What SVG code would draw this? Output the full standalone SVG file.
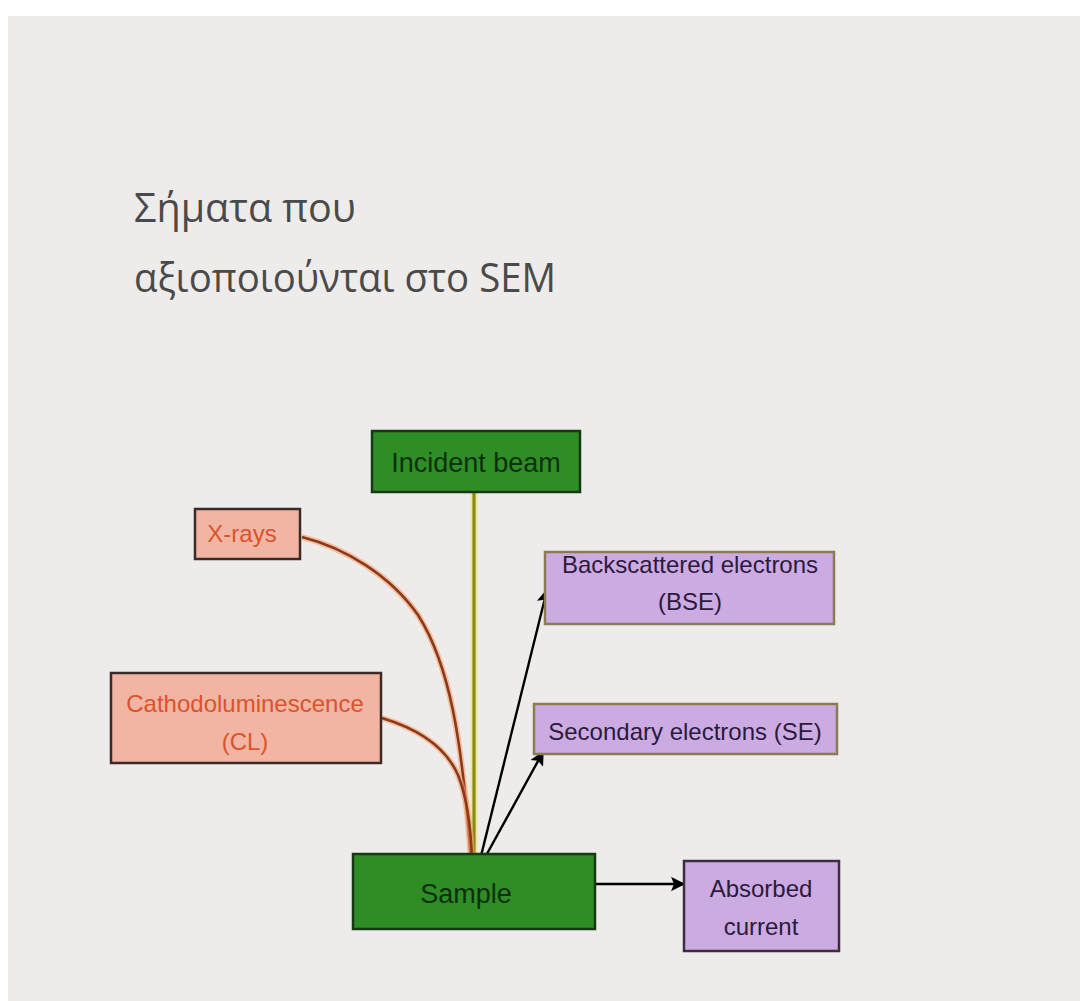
<svg xmlns="http://www.w3.org/2000/svg" width="1080" height="1001" viewBox="0 0 1080 1001">
  <defs>
    <marker id="arrow" viewBox="0 0 10 10" refX="9" refY="5" markerWidth="7" markerHeight="6" orient="auto" markerUnits="strokeWidth">
      <path d="M0,0 L10,5 L0,10 L2,5 z" fill="#000"/>
    </marker>
    <style>
      .title { font-family: "Open Sans", "DejaVu Sans", sans-serif; font-weight: 400; font-size: 41px; fill: #4a4a4a; }
      .lbl { font-family: "Liberation Sans", Arial, sans-serif; font-size: 24px; text-anchor: middle; }
      .green rect { fill: #2f8d25; stroke: #173a15; stroke-width: 2.5; }
      .green text { fill: #0c300c; font-size: 27px; }
      .salmon rect { fill: #f2b4a3; stroke: #3b2b28; stroke-width: 2.5; }
      .salmon text { fill: #d8542e; }
      .purple rect { fill: #cbabe2; stroke: #8a7b52; stroke-width: 2.5; }
      .purple text { fill: #2c1a3c; }
      .purple2 rect { fill: #cbabe2; stroke: #3c2c44; stroke-width: 2.5; }
      .purple2 text { fill: #2c1a3c; }
      .glow { fill: none; stroke: #f6a070; stroke-width: 6; opacity: 0.6; }
      .curve { fill: none; stroke: #8a3a18; stroke-width: 2.6; }
      .arr { fill: none; stroke: #000; stroke-width: 2.4; marker-end: url(#arrow); }
    </style>
  </defs>
  <rect x="0" y="0" width="1080" height="1001" fill="#ffffff"/>
  <rect x="8" y="16" width="1072" height="985" fill="#edecea"/>

  <g id="title">
    <text class="title" x="134" y="222" textLength="222" lengthAdjust="spacingAndGlyphs">Σήματα που</text>
    <text class="title" x="134" y="292" textLength="422" lengthAdjust="spacingAndGlyphs">αξιοποιούνται στο SEM</text>
  </g>

  <g id="connectors">
    <line x1="474" y1="492" x2="474" y2="866" stroke="#f3e27a" stroke-width="7" opacity="0.6"/>
    <line x1="474" y1="492" x2="474" y2="866" stroke="#8a8a12" stroke-width="3.2"/>
    <path class="glow" d="M302,537 C345,548 390,575 418,615 C450,665 462,740 471,860"/>
    <path class="curve" d="M302,537 C345,548 390,575 418,615 C450,665 462,740 471,860"/>
    <path class="glow" d="M382,718 C415,728 445,745 458,775 C468,800 471,830 472,860"/>
    <path class="curve" d="M382,718 C415,728 445,745 458,775 C468,800 471,830 472,860"/>
    <circle cx="473" cy="857" r="4.5" fill="#9a8a10" opacity="0.85"/>
    <line class="arr" x1="477" y1="872" x2="547" y2="590"/>
    <line class="arr" x1="477" y1="872" x2="543" y2="752"/>
    <line class="arr" x1="595" y1="884" x2="684" y2="884"/>
  </g>

  <g id="incident-beam" class="green">
    <rect x="372" y="431" width="208" height="61"/>
    <text class="lbl" x="476" y="472">Incident beam</text>
  </g>

  <g id="x-rays" class="salmon">
    <rect x="195" y="509" width="105" height="50"/>
    <text class="lbl" x="242" y="542">X-rays</text>
  </g>

  <g id="cathodoluminescence" class="salmon">
    <rect x="111" y="673" width="270" height="90"/>
    <text class="lbl" x="245" y="712">Cathodoluminescence</text>
    <text class="lbl" x="245" y="750">(CL)</text>
  </g>

  <g id="bse" class="purple">
    <rect x="545" y="552" width="289" height="72"/>
    <text class="lbl" x="690" y="573">Backscattered electrons</text>
    <text class="lbl" x="690" y="610">(BSE)</text>
  </g>

  <g id="se" class="purple">
    <rect x="534" y="704" width="303" height="50"/>
    <text class="lbl" x="685" y="740">Secondary electrons (SE)</text>
  </g>

  <g id="sample" class="green">
    <rect x="353" y="854" width="242" height="75"/>
    <text class="lbl" x="466" y="903">Sample</text>
  </g>

  <g id="absorbed-current" class="purple2">
    <rect x="684" y="861" width="155" height="90"/>
    <text class="lbl" x="761" y="897">Absorbed</text>
    <text class="lbl" x="761" y="935">current</text>
  </g>
</svg>
